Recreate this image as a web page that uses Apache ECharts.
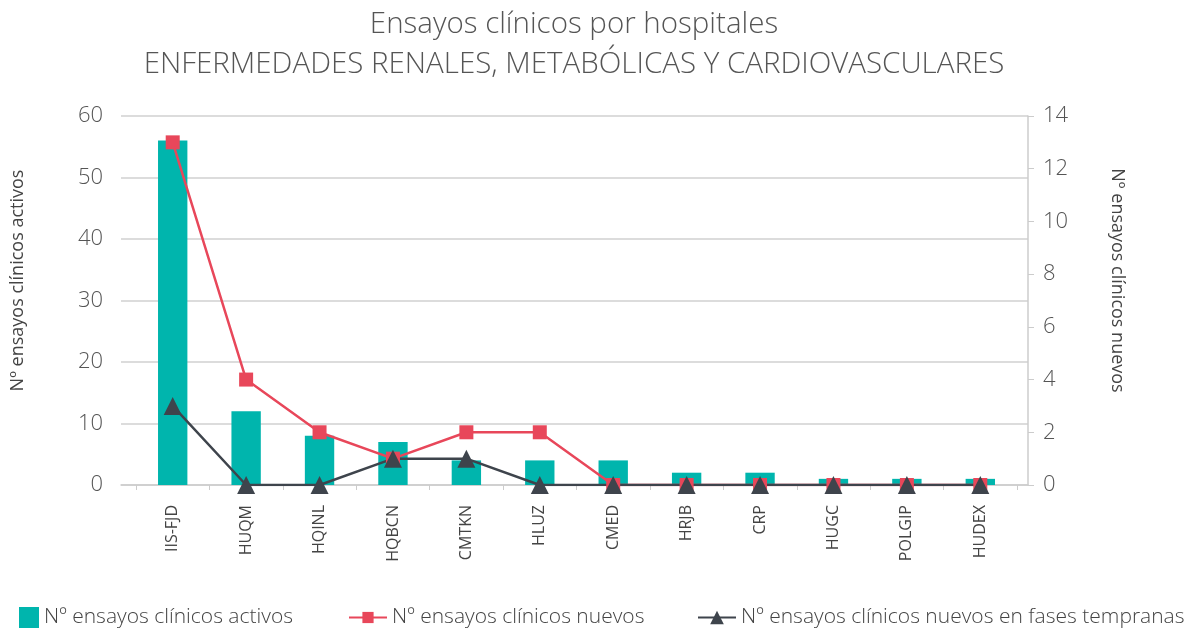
<!DOCTYPE html>
<html>
<head>
<meta charset="utf-8" />
<title>Ensayos clínicos por hospitales</title>
<script src="https://cdn.jsdelivr.net/npm/echarts@6/dist/echarts.min.js"></script>
<style>
html, body, #main { margin: 0; padding: 0; width: 1185px; height: 630px; background: #fff; }
</style>
</head>
<body>
<div id="main"></div>
<script>
var hospitales = ["IIS-FJD", "HUQM", "HQINL", "HQBCN", "CMTKN", "HLUZ", "CMED", "HRJB", "CRP", "HUGC", "POLGIP", "HUDEX"];
var activos = [56, 12, 8, 7, 4, 4, 4, 2, 2, 1, 1, 1];
var nuevos = [13, 4, 2, 1, 2, 2, 0, 0, 0, 0, 0, 0];
var tempranas = [3, 0, 0, 1, 1, 0, 0, 0, 0, 0, 0, 0];

var fuente = "Open Sans";
var gris = "#555";

var myChart = echarts.init(document.getElementById("main"));
var legendText = { fontFamily: fuente, fontSize: 21, color: "#444", fontWeight: 300 };
var nameText = { fontFamily: fuente, fontSize: 18, color: "#444" };
var tickText = { fontFamily: fuente, fontSize: 22, fontWeight: 300, color: gris };

// grid 0: marco con las lineas de guia (mas ancho, como el original)
// grid 1: donde se dibujan barras y lineas
var option = {
  backgroundColor: "#fff",
  title: {
    text: "Ensayos clínicos por hospitales\nENFERMEDADES RENALES, METABÓLICAS Y CARDIOVASCULARES",
    left: 569,
    textAlign: "center",
    top: 0,
    textStyle: { fontFamily: fuente, fontSize: 29.5, fontWeight: 300, color: gris, lineHeight: 40 }
  },
  grid: [
    { left: 121, right: 157, top: 116, bottom: 145 },
    { left: 136, right: 168, top: 116, bottom: 145 }
  ],
  legend: [
    { data: ["Nº ensayos clínicos activos"], icon: "rect", left: 14, top: 602, itemWidth: 20, itemHeight: 21, textStyle: legendText },
    { data: ["Nº ensayos clínicos nuevos"], left: 343, top: 602, itemWidth: 38, itemHeight: 14, textStyle: legendText },
    { data: ["Nº ensayos clínicos nuevos en fases tempranas"], left: 692, top: 602, itemWidth: 38, itemHeight: 17, textStyle: legendText }
  ],
  xAxis: [
    {
      gridIndex: 0, type: "value", min: 0, max: 1,
      axisLine: { show: true, onZero: false, lineStyle: { color: "#ccc", width: 1.5 } },
      axisTick: { show: false }, axisLabel: { show: false }, splitLine: { show: false }
    },
    {
      gridIndex: 1, type: "category", data: hospitales,
      axisLine: { show: false },
      axisTick: { show: true, length: 5, lineStyle: { color: "#ccc" } },
      axisLabel: { rotate: 90, margin: 20, fontFamily: fuente, fontSize: 16, color: "#444" }
    }
  ],
  yAxis: [
    {
      gridIndex: 0, type: "value", min: 0, max: 60, interval: 10,
      name: "Nº ensayos clínicos activos",
      nameLocation: "middle", nameRotate: 90, nameGap: 94,
      nameTextStyle: Object.assign({ padding: [0, 0, 0, 40] }, nameText),
      axisLine: { show: false },
      axisTick: { show: false },
      axisLabel: Object.assign({ margin: 18 }, tickText),
      splitLine: { lineStyle: { color: "#d0d0d0", width: 1.5 } }
    },
    {
      gridIndex: 0, type: "value", min: 0, max: 14, interval: 2,
      name: "Nº ensayos clínicos nuevos",
      nameLocation: "middle", nameRotate: -90, nameGap: 80,
      nameTextStyle: Object.assign({ padding: [0, 40, 0, 0] }, nameText),
      axisLine: { show: true, lineStyle: { color: "#ccc", width: 1.5 } },
      axisTick: { show: true, length: 6, lineStyle: { color: "#ccc" } },
      axisLabel: Object.assign({ margin: 15 }, tickText),
      splitLine: { show: false }
    },
    { gridIndex: 1, type: "value", min: 0, max: 60, show: false },
    { gridIndex: 1, type: "value", min: 0, max: 14, show: false }
  ],
  series: [
    {
      name: "Nº ensayos clínicos activos",
      type: "bar",
      xAxisIndex: 1, yAxisIndex: 2,
      data: activos,
      barWidth: "40%",
      itemStyle: { color: "#00B5AD" }
    },
    {
      name: "Nº ensayos clínicos nuevos",
      type: "line",
      xAxisIndex: 1, yAxisIndex: 3,
      data: nuevos,
      symbol: "rect",
      symbolSize: 14,
      lineStyle: { color: "#E8475A", width: 2.5 },
      itemStyle: { color: "#E8475A" }
    },
    {
      name: "Nº ensayos clínicos nuevos en fases tempranas",
      type: "line",
      xAxisIndex: 1, yAxisIndex: 3,
      data: tempranas,
      symbol: "triangle",
      symbolSize: 18,
      lineStyle: { color: "#3E444C", width: 2.5 },
      itemStyle: { color: "#3E444C" }
    }
  ]
};

myChart.setOption(option);
</script>
</body>
</html>
